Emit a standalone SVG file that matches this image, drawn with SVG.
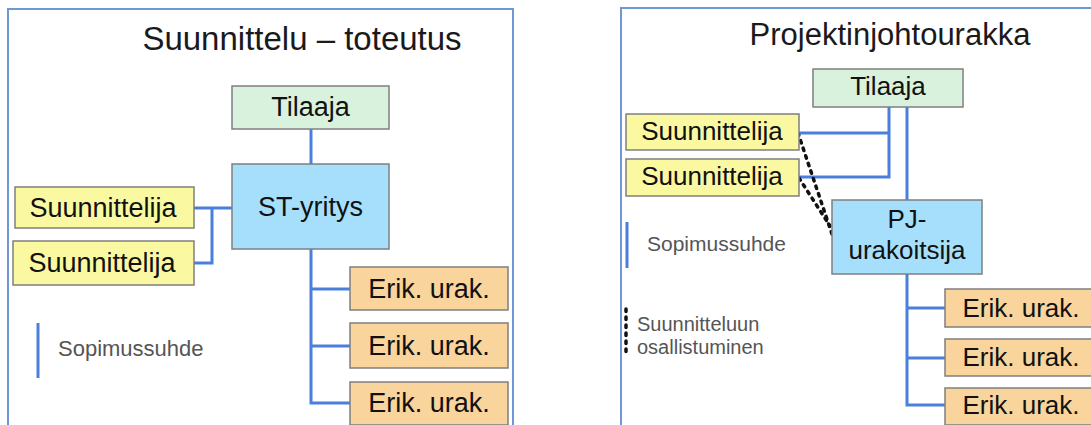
<svg xmlns="http://www.w3.org/2000/svg" width="1091" height="425" viewBox="0 0 1091 425">
<style>
  .frame { fill: none; stroke: #6f97d8; stroke-width: 2; }
  .box { stroke: #7f7f7f; stroke-width: 1.5; }
  .green { fill: #d9f2dd; }
  .blue { fill: #a6dffc; }
  .yellow { fill: #fbf8a2; }
  .orange { fill: #f9d49c; }
  .t { font-family: "Liberation Sans", Arial, sans-serif; fill: #111; text-anchor: middle; }
  .title { font-family: "Liberation Sans", Arial, sans-serif; fill: #1a1a1a; text-anchor: middle; }
  .legend { font-family: "Liberation Sans", Arial, sans-serif; fill: #555; }
  .con { fill: none; stroke: #4b7fdc; stroke-width: 3; }
  .dot { fill: none; stroke: #111; stroke-width: 3.5; stroke-dasharray: 2.5 5.5; stroke-linecap: round; }
</style>
<rect width="1091" height="425" fill="#ffffff"/>

<!-- Left panel -->
<path class="frame" d="M8,430 V9 H513 V430"/>
<text class="title" x="302" y="50" font-size="33">Suunnittelu – toteutus</text>

<g id="connectors-left">
  <path class="con" d="M311,129 V165"/>
  <path class="con" d="M194,208 H232 M212,208 V263 H194"/>
  <path class="con" d="M311,249 V403 H350 M311,289 H350 M311,346 H350"/>
  <path class="con" d="M38,323 V378"/>
</g>

<g id="l-tilaaja"><rect class="box green" x="232" y="86" width="157" height="43"/><text class="t" x="310.5" y="116" font-size="27">Tilaaja</text></g>
<g id="l-st"><rect class="box blue" x="232" y="164" width="157" height="85"/><text class="t" x="310.5" y="216" font-size="27">ST-yritys</text></g>
<g id="l-suunn1"><rect class="box yellow" x="15" y="187" width="179" height="41"/><text class="t" x="103" y="217" font-size="27">Suunnittelija</text></g>
<g id="l-suunn2"><rect class="box yellow" x="13" y="241" width="181" height="44"/><text class="t" x="102" y="272" font-size="27">Suunnittelija</text></g>
<g id="l-erik1"><rect class="box orange" x="350" y="267" width="158" height="43"/><text class="t" x="429" y="298" font-size="27">Erik. urak.</text></g>
<g id="l-erik2"><rect class="box orange" x="350" y="323" width="158" height="45"/><text class="t" x="429" y="355" font-size="27">Erik. urak.</text></g>
<g id="l-erik3"><rect class="box orange" x="350" y="382" width="158" height="43"/><text class="t" x="429" y="412" font-size="27">Erik. urak.</text></g>
<text class="legend" x="58" y="356" font-size="22">Sopimussuhde</text>

<!-- Right panel -->
<path class="frame" d="M621,430 V8 H1095"/>
<text class="title" x="890" y="45" font-size="31">Projektinjohtourakka</text>

<g id="connectors-right">
  <path class="con" d="M889,107 V177 H799 M889,133 H799"/>
  <path class="con" d="M907,107 V200"/>
  <path class="con" d="M907,274 V405 H945 M907,308 H945 M907,358 H945"/>
  <path class="con" d="M627,222 V268" stroke-width="2.5"/>
  <path class="dot" d="M798,133 L833,237"/>
  <path class="dot" d="M799,178 L830,226"/>
  <path class="dot" d="M626,309 V353" stroke-width="3" stroke-dasharray="0.5 5"/>
</g>

<g id="r-tilaaja"><rect class="box green" x="813" y="69" width="150" height="38"/><text class="t" x="888" y="95" font-size="26">Tilaaja</text></g>
<g id="r-suunn1"><rect class="box yellow" x="626" y="114" width="173" height="36"/><text class="t" x="712" y="140" font-size="26">Suunnittelija</text></g>
<g id="r-suunn2"><rect class="box yellow" x="626" y="159" width="173" height="37"/><text class="t" x="712" y="185" font-size="26">Suunnittelija</text></g>
<g id="r-pj"><rect class="box blue" x="832" y="200" width="150" height="74"/><text class="t" x="907" y="228" font-size="26">PJ-</text><text class="t" x="907" y="259" font-size="26">urakoitsija</text></g>
<g id="r-erik1"><rect class="box orange" x="945" y="289" width="150" height="38"/><text class="t" x="1021" y="317" font-size="26">Erik. urak.</text></g>
<g id="r-erik2"><rect class="box orange" x="945" y="339" width="150" height="37"/><text class="t" x="1021" y="366" font-size="26">Erik. urak.</text></g>
<g id="r-erik3"><rect class="box orange" x="945" y="388" width="150" height="37"/><text class="t" x="1021" y="414" font-size="26">Erik. urak.</text></g>
<text class="legend" x="647" y="251" font-size="21">Sopimussuhde</text>
<text class="legend" x="637" y="331" font-size="20">Suunnitteluun</text>
<text class="legend" x="637" y="354" font-size="20">osallistuminen</text>
</svg>
